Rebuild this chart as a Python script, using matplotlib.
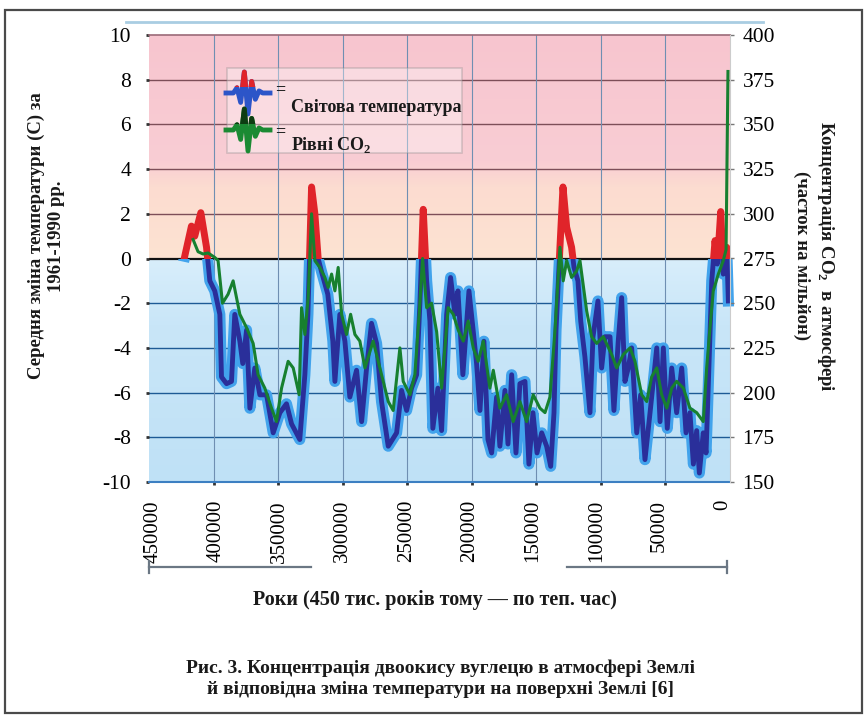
import numpy as np
import matplotlib
matplotlib.use("Agg")
import matplotlib.pyplot as plt
from matplotlib.patches import Rectangle
from matplotlib.lines import Line2D
from matplotlib.colors import LinearSegmentedColormap

plt.rcParams['font.family'] = ['Liberation Serif', 'DejaVu Serif']
plt.rcParams['mathtext.fontset'] = 'custom'
plt.rcParams['mathtext.rm'] = 'Liberation Serif'
plt.rcParams['mathtext.bf'] = 'Liberation Serif:bold'
plt.rcParams['axes.unicode_minus'] = False

# ---------------- data ----------------
temp_years = [424800, 419500, 416900, 412100, 407600, 405000, 401100, 397100, 395800,
              391800, 387900, 385300, 381300, 379000, 376000, 373400, 369500, 365500,
              360200, 355000, 349700, 344500, 340500, 334000, 330000, 327600, 324700,
              322100, 319500, 316800, 311900, 307900, 306300, 302400, 298400, 294500,
              289200, 285200, 281300, 277400, 273400, 269500, 264200, 257600, 253700,
              249700, 245800, 241800, 239200, 236600, 233900, 231300, 229000, 225000,
              222100, 218100, 215000, 211600, 209200, 205300, 200500, 197400, 194500,
              191800, 188700, 185500, 182600, 178700, 176100, 172100, 169700, 166800,
              163400, 160300, 156300, 153200, 150000, 146800, 143100, 139200, 136000,
              133400, 131800, 128700, 126300, 123400, 119500, 117600, 114500, 112300,
              109000, 105000, 102600, 98700, 95800, 93200, 89200, 86100, 82700,
              80000, 77400, 74800, 72100, 68100, 65000, 61600, 57600, 52300,
              49700, 47100, 44000, 40500, 36600, 32600, 29200, 26100, 23400,
              20800, 18700, 15600, 13400, 10800, 8900, 6300, 4500, 1800,
              -200, -2900, -4200]
temp_values = [0.1, 1.45, 1.0, 2.05, 0.5, -1.0, -1.45, -2.5, -5.3,
               -5.6, -5.5, -2.5, -3.7, -4.7, -3.2, -6.7, -4.9, -6.1,
               -6.1, -7.8, -6.9, -6.5, -7.4, -8.1, -5.2, -2.5, 3.2,
               2.0, 0.0, -0.6, -1.6, -3.7, -5.5, -2.5, -3.7, -6.2,
               -5.0, -7.3, -4.9, -2.9, -3.8, -6.4, -8.4, -7.8, -5.9,
               -6.8, -5.8, -5.2, -2.0, 2.2, -1.0, -2.8, -7.6, -5.8,
               -7.7, -2.5, -0.85, -2.5, -1.45, -5.2, -1.45, -3.1, -4.7,
               -6.8, -3.7, -8.1, -8.7, -6.2, -8.4, -5.9, -8.3, -5.2,
               -8.7, -5.6, -5.5, -9.2, -6.9, -8.7, -7.8, -8.4, -9.3,
               -6.9, -3.2, 0.5, 3.2, 1.4, 0.5, -0.4, -1.0, -2.8,
               -4.4, -6.9, -3.5, -1.9, -4.9, -3.5, -3.5, -6.8, -3.7,
               -1.75, -5.5, -4.9, -4.0, -7.8, -6.1, -9.0, -6.9, -4.0,
               -7.3, -4.0, -7.6, -4.9, -6.9, -4.9, -7.8, -6.9, -9.2,
               -7.7, -9.6, -7.8, -8.7, -4.3, -1.0, 0.8, -0.25, 2.1,
               -0.7, 0.5, -1.9]

co2_years = [418200, 414300, 410300, 406400, 401100, 398500, 395000, 390600, 386600,
             381300, 376000, 370800, 366900, 361600, 356300, 352400, 348400, 343200,
             339200, 334500, 332600, 330000, 327400, 324700, 322100, 318200, 314200,
             311600, 308900, 306300, 303700, 301000, 297100, 293900, 290500, 286600,
             282600, 276100, 270800, 264200, 260300, 255000, 252400, 247100, 243200,
             239800, 237100, 233900, 230000, 226000, 222100, 216900, 212900, 209000,
             205000, 201100, 197100, 193200, 189200, 184000, 181300, 176100, 170800,
             165600, 160300, 155000, 149800, 144500, 140500, 136600, 132600, 128700,
             126100, 123400, 119500, 115500, 112900, 107600, 103700, 99700, 94500,
             87900, 83900, 78700, 73400, 69500, 64200, 60200, 56300, 52300,
             48400, 44400, 40500, 36600, 31300, 26100, 20800, 15600, 12900,
             10300, 7700, 3700, -200, -2400, -3900]
co2_ppm = [285.6, 278.8, 277.5, 278.1, 275.6, 273.8, 250.0, 255.0, 262.5,
           243.8, 236.3, 227.5, 210.0, 202.5, 191.3, 183.8, 202.5, 217.5,
           213.8, 198.8, 247.5, 232.5, 253.1, 300.0, 273.8, 270.0, 264.4,
           258.8, 266.3, 256.9, 270.0, 243.8, 232.5, 243.8, 232.5, 228.8,
           213.8, 228.8, 213.8, 195.0, 190.0, 225.0, 206.3, 198.8, 210.0,
           243.8, 275.0, 247.5, 250.0, 234.0, 202.5, 247.5, 243.8, 235.0,
           228.8, 240.0, 225.0, 217.5, 228.8, 202.5, 212.5, 191.3, 198.8,
           183.8, 195.0, 183.8, 198.8, 191.3, 188.8, 197.5, 235.0, 281.3,
           262.5, 273.8, 264.4, 268.1, 273.8, 245.6, 231.3, 227.5, 231.3,
           221.3, 213.8, 221.3, 225.0, 217.5, 198.8, 195.0, 208.8, 213.8,
           198.8, 191.3, 202.5, 206.3, 202.5, 191.3, 188.8, 183.8, 213.8,
           236.3, 256.9, 266.3, 273.8, 280.0, 379.6]

year_ticks = [450000, 400000, 350000, 300000, 250000, 200000, 150000, 100000, 50000, 0]
year_labels = [str(v) for v in year_ticks]
temp_ticks = list(range(-10, 11, 2))
co2_ticks = list(range(150, 401, 25))

# ---------------- figure ----------------
W, H = 866, 720
fig = plt.figure(figsize=(W / 100, H / 100), dpi=100)
fig.patch.set_facecolor('white')

def fx(x):
    return x / W

def fy(y):
    return 1 - y / H

L, R, T, B = 149, 730, 35, 482
ax = fig.add_axes([fx(L), fy(B), (R - L) / W, (B - T) / H])
XMIN, XMAX = 453000, -5500
ax.set_xlim(XMIN, XMAX)
ax.set_ylim(-10, 10)

# background gradient
bg = LinearSegmentedColormap.from_list('bg', [
    (0.0, '#bfe1f6'), (0.35, '#c9e6f8'), (0.499, '#d8eefb'),
    (0.501, '#fde3d2'), (0.66, '#fcdcd0'), (0.72, '#f9cdd4'), (1.0, '#f7c5cf')])
ax.imshow(np.linspace(0, 1, 500).reshape(-1, 1), cmap=bg, aspect='auto',
          extent=(XMIN, XMAX, -10, 10), origin='lower', zorder=0, interpolation='bilinear')

# grid
for t in temp_ticks[1:-1]:
    if t > 0:
        c, lw = '#7d4e58', 1.0
    elif t == 0:
        c, lw = '#111111', 1.6
    else:
        c, lw = '#1d5a95', 1.0
    ax.axhline(t, color=c, lw=lw, zorder=1)
grid_x = np.linspace(XMIN, XMAX, 10)[1:-1]
ax.set_xticks(grid_x, minor=True)
ax.grid(True, axis='x', which='minor', color='#6f8fb2', lw=0.8, zorder=1)

# temperature line
upper = Rectangle((-1e6, 0), 2e6, 20, transform=ax.transData)
lower = Rectangle((-1e6, -20), 2e6, 20, transform=ax.transData)
l1, = ax.plot(temp_years, temp_values, color='#42a3ec', lw=8, solid_joinstyle='round', zorder=2)
l1.set_clip_path(lower)
l2, = ax.plot(temp_years, temp_values, color='#2a2f9a', lw=3.5, solid_joinstyle='round', zorder=3)
l2.set_clip_path(lower)
l3, = ax.plot(temp_years, temp_values, color='#e0242a', lw=5, solid_joinstyle='round', zorder=3)
l3.set_clip_path(upper)

# CO2 on twin axis
ax2 = ax.twinx()
ax2.set_ylim(150, 400)
ax2.plot(co2_years, co2_ppm, color='#17802f', lw=2.2, zorder=4)

# ticks
ax.set_xticks(year_ticks)
ax.set_xticklabels(year_labels, rotation=90, va='top', ha='center', fontsize=15)
ax.tick_params(axis='x', which='major', length=0, pad=13)
ax.tick_params(axis='x', which='minor', length=2, width=2, color='#333333')
ax.set_yticks(temp_ticks)
ax.tick_params(axis='y', length=2, width=2, color='#333333', labelsize=15.5, pad=11)
ax2.set_yticks(co2_ticks)
ax2.tick_params(axis='y', length=3, width=1, color='#777777', labelsize=15.5, pad=6)

for a in (ax, ax2):
    for s in a.spines.values():
        s.set_visible(False)
ax.spines['bottom'].set_visible(True)
ax.spines['bottom'].set_color('#3c7fc2')
ax.spines['bottom'].set_linewidth(1.5)
ax.spines['top'].set_visible(True)
ax.spines['top'].set_color('#9b6a78')
ax.spines['top'].set_linewidth(1.2)
ax2.spines['right'].set_visible(True)
ax2.spines['right'].set_color('#cccccc')
ax2.spines['right'].set_linewidth(0.8)

# axis titles
bold = dict(fontweight='bold', fontsize=13.5, color='#1a1a1a')
fig.text(fx(46), fy(236), 'Середня зміна температури (С) за\n1961-1990 рр.', rotation=90,
         ha='center', va='center', multialignment='center', linespacing=1.25, **bold)
fig.text(fx(815), fy(256), 'Концентрація CO$_{\\mathbf{2}}$  в атмосфері\n(часток на мільйон)',
         rotation=-90, ha='center', va='center', multialignment='center', linespacing=1.3, **bold)
fig.text(fx(435), fy(600), 'Роки (450 тис. років тому — по теп. час)', ha='center', va='center',
         fontweight='bold', fontsize=14.5, color='#1a1a1a')
fig.text(fx(440), fy(668), 'Рис. 3. Концентрація двоокису вуглецю в атмосфері Землі',
         ha='center', va='center', fontweight='bold', fontsize=14, color='#1a1a1a')
fig.text(fx(440), fy(690), 'й відповідна зміна температури на поверхні Землі [6]',
         ha='center', va='center', fontweight='bold', fontsize=14, color='#1a1a1a')

# bracket under the year axis
bc = '#6b7784'
for xa, xb in ((149, 311), (567, 727)):
    fig.add_artist(Line2D([fx(xa), fx(xb)], [fy(567), fy(567)], color=bc, lw=1.6))
for xe in (149, 727):
    fig.add_artist(Line2D([fx(xe), fx(xe)], [fy(561), fy(573)], color=bc, lw=1.6))

# top decorative line and frame
fig.add_artist(Line2D([fx(126), fx(763)], [fy(22), fy(22)], color='#a9cde2', lw=2))
fig.add_artist(Rectangle((fx(5), fy(713)), fx(857), 703 / H, fill=False,
                         edgecolor='#4a4a4a', lw=1.6, transform=fig.transFigure))

# legend (manual)
fig.add_artist(Rectangle((fx(227), fy(153)), fx(235), 85 / H, facecolor='white', alpha=0.35,
                         edgecolor='#8a8a8a', lw=1.2, transform=fig.transFigure, zorder=5))
glyph = [0.0, 0.0, 0.0, 0.25, -0.45, 1.0, -1.0, 0.55, -0.3, 0.1, 0.0, 0.0, 0.0]
gx = np.linspace(-22, 22, len(glyph))

def draw_glyph(cx, cy, base, top):
    xs = [fx(cx + v) for v in gx]
    ys = [fy(cy - 21 * v) for v in glyph]
    ln = Line2D(xs, ys, color=base, lw=3.5, zorder=6, solid_joinstyle='round')
    fig.add_artist(ln)
    ln2 = Line2D(xs, ys, color=top, lw=3.5, zorder=7, solid_joinstyle='round')
    ln2.set_clip_path(Rectangle((fx(cx - 30), fy(cy - 6)), fx(60), 30 / H,
                                transform=fig.transFigure))
    fig.add_artist(ln2)

draw_glyph(248, 93, '#2c55c8', '#e0242a')
draw_glyph(248, 130, '#1b8a33', '#0d3d12')
leg = dict(fontweight='bold', fontsize=13, color='#1a1a1a', zorder=8)
fig.text(fx(280), fy(90), '=', ha='center', va='center', **leg)
fig.text(fx(280), fy(132), '=', ha='center', va='center', **leg)
fig.text(fx(291), fy(107), 'Світова температура', ha='left', va='center', **leg)
fig.text(fx(291), fy(145), 'Рівні CO$_{\\mathbf{2}}$', ha='left', va='center', **leg)

fig.savefig('out.png', dpi=100)
